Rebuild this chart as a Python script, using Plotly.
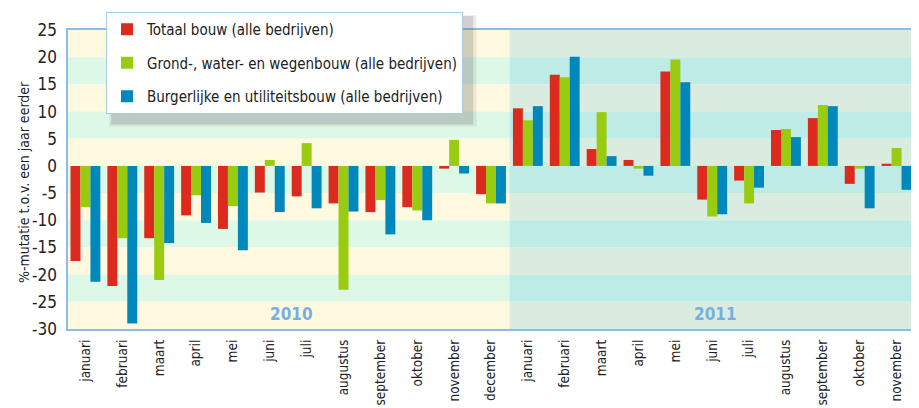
import plotly.graph_objects as go

months_2010 = ["januari", "februari", "maart", "april", "mei", "juni", "juli",
               "augustus", "september", "oktober", "november", "december"]
months_2011 = ["januari", "februari", "maart", "april", "mei", "juni", "juli",
               "augustus", "september", "oktober", "november"]
tick_labels = months_2010 + months_2011

totaal = [-17.5, -22.1, -13.3, -9.1, -11.6, -4.9, -5.6, -6.9, -8.5, -7.6, -0.5, -5.2,
          10.6, 16.8, 3.1, 1.1, 17.4, -6.2, -2.7, 6.6, 8.8, -3.3, 0.4]
grond = [-7.6, -13.3, -21.0, -5.4, -7.4, 1.1, 4.2, -22.8, -6.3, -8.2, 4.8, -6.9,
         8.4, 16.3, 9.9, -0.5, 19.6, -9.3, -6.9, 6.8, 11.2, -0.5, 3.3]
burger = [-21.3, -29.0, -14.2, -10.5, -15.5, -8.5, -7.8, -8.4, -12.6, -10.0, -1.4, -6.9,
          11.0, 20.1, 1.8, -1.8, 15.4, -8.9, -4.0, 5.3, 11.0, -7.8, -4.4]

series_names = ["Totaal bouw (alle bedrijven)",
                "Grond-, water- en wegenbouw (alle bedrijven)",
                "Burgerlijke en utiliteitsbouw (alle bedrijven)"]
series_colors = ["#dc2a1e", "#99cc11", "#0088bb"]
years = ["2010", "2011"]
y_ticks = [25, 20, 15, 10, 5, 0, -5, -10, -15, -20, -25, -30]
y_tick_text = ["25", "20", "15", "10", "5", "0", "-5", "-10", "-15", "-20", "-25", "-30"]

FONT = "DejaVu Sans Condensed, Liberation Sans Narrow, sans-serif"

x = list(range(len(tick_labels)))
n2010 = len(months_2010)

fig = go.Figure()
for i, (name, vals, col) in enumerate(zip(series_names, [totaal, grond, burger], series_colors)):
    fig.add_trace(go.Bar(x=x, y=vals, name=name, marker=dict(color=col, line=dict(width=0)),
                         legendgroup=str(i)))

ymin, ymax = -30.2, 25.2
band_edges = [ymax] + y_ticks[1:-1] + [ymin]
shapes = []
for yr in range(2):
    if yr == 0:
        x0, x1 = -0.5, n2010 - 0.5
        cols = ["#fffadf", "#ddf8e7"]
    else:
        x0, x1 = n2010 - 0.5, len(tick_labels) - 0.5
        cols = ["#daece0", "#beebe5"]
    for k in range(len(band_edges) - 1):
        shapes.append(dict(type="rect", xref="x", yref="y", x0=x0, x1=x1,
                           y0=band_edges[k + 1], y1=band_edges[k],
                           fillcolor=cols[k % 2], line=dict(width=0), layer="below"))
# plot border
shapes.append(dict(type="rect", xref="paper", yref="paper", x0=0, x1=1, y0=0, y1=1,
                   line=dict(color="#8fbce4", width=2), layer="above"))
# legend shadow
shapes.append(dict(type="rect", xref="paper", yref="paper",
                   x0=0.052, x1=0.479, y0=0.683, y1=1.043,
                   fillcolor="rgba(110,110,110,0.22)", line=dict(width=0), layer="above"))
shapes.append(dict(type="rect", xref="paper", yref="paper",
                   x0=0.050, x1=0.483, y0=0.676, y1=1.046,
                   fillcolor="rgba(110,110,110,0.12)", line=dict(width=0), layer="above"))

annotations = [
    dict(x=5.6, y=-27.3, xref="x", yref="y", text="<b>2010</b>", showarrow=False,
         font=dict(family=FONT, size=17, color="#79aee0")),
    dict(x=17.1, y=-27.3, xref="x", yref="y", text="<b>2011</b>", showarrow=False,
         font=dict(family=FONT, size=17, color="#79aee0")),
    dict(x=-0.063, y=0.49, xref="paper", yref="paper", text="%-mutatie t.o.v. een jaar eerder",
         textangle=-90, showarrow=False, font=dict(family=FONT, size=14, color="#222222")),
]

# page body has an 8px margin; figure is sized/offset to compensate
fig.update_layout(
    width=911, height=400,
    margin=dict(l=59, r=4, t=21, b=78, autoexpand=False),
    paper_bgcolor="white", plot_bgcolor="white",
    barmode="group", bargap=0.19, bargroupgap=0,
    font=dict(family=FONT, size=15, color="#222222"),
    shapes=shapes, annotations=annotations,
    legend=dict(x=0.046, y=1.0565, xanchor="left", yanchor="top",
                bgcolor="white", bordercolor="#a8cbe8", borderwidth=1,
                font=dict(family=FONT, size=15, color="#222222"),
                tracegroupgap=11, traceorder="grouped"),
    showlegend=True,
)
fig.update_xaxes(tickmode="array", tickvals=x, ticktext=tick_labels, tickangle=-90,
                 range=[-0.5, len(tick_labels) - 0.5], showgrid=False, zeroline=False,
                 showline=False, ticks="", ticklabelstandoff=6, automargin=False,
                 tickfont=dict(family=FONT, size=13.5, color="#222222"))
fig.update_yaxes(range=[ymin, ymax], tickmode="array", tickvals=y_ticks, ticktext=y_tick_text,
                 showgrid=False, zeroline=False, showline=False, ticks="", ticklabelstandoff=9,
                 automargin=False,
                 tickfont=dict(family=FONT, size=17, color="#222222"))

fig.write_html("out.html")
